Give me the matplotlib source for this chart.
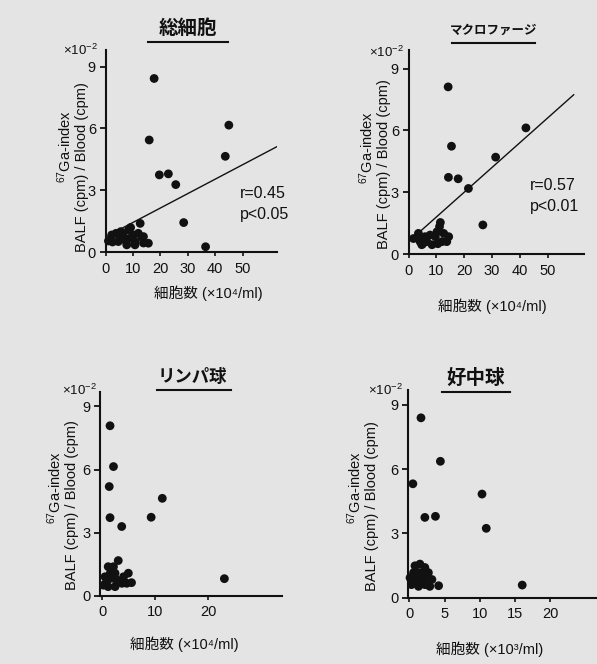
import numpy as np
import matplotlib
matplotlib.use("Agg")
import matplotlib.pyplot as plt
from matplotlib.lines import Line2D

plt.rcParams['font.family'] = ['Liberation Sans', 'Noto Sans CJK JP', 'DejaVu Sans']
plt.rcParams['mathtext.fontset'] = 'custom'
plt.rcParams['mathtext.rm'] = 'Liberation Sans'
plt.rcParams['mathtext.it'] = 'Liberation Sans:italic'
plt.rcParams['mathtext.default'] = 'rm'

# --- data (y in units of 10^-2) ---
# 総細胞 (x 10^4/ml)
total_x = [17.7, 15.9, 45.0, 43.7, 19.6, 22.9, 25.6, 28.5, 36.5, 12.6,
           1.0, 2.2, 3.8, 4.6, 5.5, 6.4, 7.1, 7.7, 8.3, 8.9, 9.1, 10.1,
           10.7, 10.7, 11.9, 13.2, 13.8, 13.8, 15.6, 2.5, 5.0]
total_y = [8.42, 5.44, 6.16, 4.65, 3.75, 3.80, 3.28, 1.44, 0.27, 1.40,
           0.55, 0.84, 0.92, 0.52, 1.00, 0.79, 0.60, 0.36, 1.08, 0.68, 1.20, 0.84,
           0.51, 0.36, 0.92, 0.73, 0.76, 0.45, 0.44, 0.50, 0.60]
total_fit = (0.75, 0.0698)   # intercept, slope
total_fit_range = (0.0, 62.5)

# マクロファージ (x 10^4/ml)
macro_x = [14.2, 15.4, 14.3, 17.8, 21.5, 31.3, 42.2, 26.7, 11.4, 14.4,
           1.7, 3.3, 3.5, 4.1, 4.7, 5.9, 6.5, 7.7, 8.4, 9.6, 10.2, 11.1,
           12.0, 12.6, 13.7, 5.1, 10.5]
macro_y = [8.11, 5.23, 3.72, 3.65, 3.18, 4.70, 6.12, 1.41, 1.53, 0.84,
           0.75, 0.84, 1.00, 0.60, 0.45, 0.84, 0.60, 0.92, 0.45, 0.84, 1.08, 1.33,
           0.60, 1.00, 0.60, 0.50, 0.50]
macro_fit = (0.60, 0.120)
macro_fit_range = (0.7, 59.4)

# リンパ球 (x 10^4/ml)
lymph_x = [1.45, 2.1, 1.3, 1.45, 3.65, 9.2, 11.3, 23.0,
           3.0, 2.1, 1.1, 1.5, 2.4, 0.5, 1.8, 0.8, 2.7, 4.9, 4.0, 4.6, 5.5,
           2.4, 1.1, 3.7, 0.2]
lymph_y = [8.08, 6.14, 5.19, 3.71, 3.29, 3.73, 4.63, 0.81,
           1.67, 1.38, 1.38, 1.07, 1.07, 0.90, 0.83, 0.67, 0.75, 1.07, 0.90, 0.59, 0.62,
           0.43, 0.43, 0.59, 0.50]

# 好中球 (x 10^3/ml)
neut_x = [1.65, 0.5, 4.4, 2.2, 3.7, 10.3, 10.9, 16.0, 4.15,
          0.8, 1.5, 2.2, 0.6, 1.3, 2.0, 2.7, 0.8, 1.8, 2.5, 3.2, 0.3, 1.3,
          2.2, 2.9, 0.1]
neut_y = [8.40, 5.32, 6.37, 3.75, 3.80, 4.84, 3.24, 0.59, 0.56,
          1.49, 1.57, 1.41, 1.17, 1.17, 1.17, 1.17, 0.85, 0.85, 0.93, 0.85, 0.61, 0.53,
          0.61, 0.53, 0.93]

W, H = 597, 664
bg = '#e4e4e4'
ink = '#111111'
fig = plt.figure(figsize=(W / 100, H / 100), dpi=100, facecolor=bg)


def px_axes(left, top, right, bottom):
    return fig.add_axes([left / W, 1 - bottom / H, (right - left) / W, (bottom - top) / H])


def ftext(x, y, s, **kw):
    fig.text(x / W, 1 - y / H, s, **kw)


def panel(ax_box, xs, ys, xlim, ylim, xticks, title, title_pos, title_size, uline,
          ylab_pos, xlab_pos, xunit, exp_pos, fit=None, fit_range=None, stats=None):
    ax = px_axes(*ax_box)
    ax.set_facecolor('none')
    ax.scatter(xs, ys, s=40, color=ink, edgecolors='none', zorder=3, clip_on=False)
    if fit is not None:
        fx = np.array(fit_range)
        ax.plot(fx, fit[0] + fit[1] * fx, color=ink, lw=1.0)
    ax.set_xlim(*xlim)
    ax.set_ylim(*ylim)
    for s in ['top', 'right']:
        ax.spines[s].set_visible(False)
    for s in ['left', 'bottom']:
        ax.spines[s].set_linewidth(1.5)
        ax.spines[s].set_color(ink)
    ax.set_yticks([0, 3, 6, 9])
    ax.set_xticks(xticks)
    ax.tick_params(axis='y', length=4, width=1.3, labelsize=10.5, pad=3, colors=ink)
    ax.tick_params(axis='x', length=3, width=1.2, labelsize=10.5, pad=4, colors=ink)

    ftext(title_pos[0], title_pos[1], title, ha='center', va='center',
          fontsize=title_size, fontweight='bold', color=ink)
    fig.add_artist(Line2D([uline[0] / W, uline[1] / W], [1 - uline[2] / H] * 2,
                          color=ink, lw=1.5))
    ftext(exp_pos[0], exp_pos[1], r'×10$^{-2}$', ha='right', va='center', fontsize=9.5,
          color=ink)
    ftext(ylab_pos[0], ylab_pos[1], r'$^{67}$Ga-index', rotation=90,
          ha='center', va='center', fontsize=10.5, color=ink)
    ftext(ylab_pos[2], ylab_pos[3], 'BALF (cpm) / Blood (cpm)', rotation=90,
          ha='center', va='center', fontsize=10.5, color=ink)
    sup = {3: '³', 4: '⁴'}[xunit]
    ftext(xlab_pos[0], xlab_pos[1], '細胞数 (×10' + sup + '/ml)',
          ha='center', va='center', fontsize=10.5, color=ink)
    if stats is not None:
        ftext(stats[0], stats[1], stats[2], ha='left', va='center', fontsize=11.5, color=ink)
        ftext(stats[0], stats[1] + 21, stats[3], ha='left', va='center', fontsize=11.5,
              color=ink)
    return ax


panel((105.7, 50, 277, 252.3), total_x, total_y, (0, 62.6), (0, 9.8),
      [0, 10, 20, 30, 40, 50], '総細胞', (188, 28), 14, (148, 228, 41.7),
      (65, 146, 82, 167), (208, 293), 4, (98, 50),
      fit=total_fit, fit_range=total_fit_range, stats=(240, 193, 'r=0.45', 'p<0.05'))

panel((408.7, 50, 583.7, 254), macro_x, macro_y, (0, 63), (0, 9.9),
      [0, 10, 20, 30, 40, 50], 'マクロファージ', (494, 31), 9, (452, 535, 43.3),
      (367, 147, 384, 164), (492, 306), 4, (404, 52),
      fit=macro_fit, fit_range=macro_fit_range, stats=(530, 186, 'r=0.57', 'p<0.01'))

panel((100, 391.7, 281.7, 595.7), lymph_x, lymph_y, (-0.44, 33.8), (0, 9.7),
      [0, 10, 20], 'リンパ球', (192, 376.7), 12.5, (157, 231, 390),
      (55, 487, 72, 505), (184, 644), 4, (97, 390))

panel((408, 390, 597, 597.7), neut_x, neut_y, (-0.19, 26.6), (0, 9.7),
      [0, 5, 10, 15, 20], '好中球', (476, 378), 14, (442, 510, 391.7),
      (355, 487, 372, 506), (490, 649), 3, (403, 390))

fig.savefig('out.png', dpi=100, facecolor=bg)
